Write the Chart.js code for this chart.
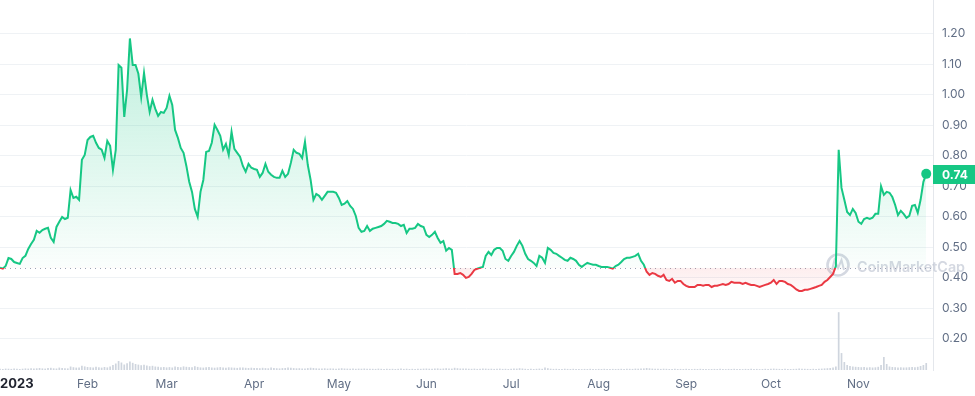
<!DOCTYPE html>
<html>
<head>
<meta charset="utf-8">
<style>
html, body { margin: 0; padding: 0; background: #fff; }
#wrap { width: 975px; height: 396px; }
</style>
<script src="https://cdn.jsdelivr.net/npm/chart.js@4.4.0/dist/chart.umd.min.js"></script>
</head>
<body>
<div id="wrap"><canvas id="priceChart" width="975" height="396"></canvas></div>
<script>
// daily close, 1 Jan 2023 onwards
const prices = [
    0.433,0.430,0.439,0.465,0.462,0.452,0.449,0.446,0.465,0.472,
    0.495,0.511,0.525,0.554,0.548,0.557,0.561,0.564,0.531,0.518,
    0.567,0.584,0.600,0.593,0.597,0.688,0.662,0.666,0.656,0.787,
    0.803,0.852,0.862,0.866,0.843,0.826,0.820,0.793,0.849,0.833,
    0.754,0.820,1.098,1.089,0.928,1.016,1.185,1.098,1.098,1.069,
    0.993,1.072,1.000,0.944,0.984,0.954,0.931,0.944,0.941,0.957,
    0.997,0.967,0.885,0.859,0.826,0.810,0.767,0.715,0.682,0.626,
    0.600,0.682,0.721,0.813,0.816,0.843,0.902,0.885,0.866,0.820,
    0.839,0.803,0.879,0.823,0.810,0.797,0.767,0.748,0.774,0.761,
    0.757,0.754,0.731,0.744,0.774,0.748,0.738,0.731,0.728,0.728,
    0.751,0.731,0.741,0.777,0.820,0.810,0.807,0.793,0.846,0.770,
    0.721,0.656,0.675,0.669,0.656,0.669,0.682,0.682,0.682,0.679,
    0.662,0.639,0.643,0.652,0.636,0.626,0.603,0.564,0.551,0.554,
    0.570,0.554,0.561,0.564,0.567,0.570,0.577,0.587,0.584,0.580,
    0.580,0.577,0.570,0.574,0.547,0.561,0.561,0.564,0.577,0.570,
    0.567,0.541,0.534,0.541,0.551,0.531,0.515,0.521,0.489,0.498,
    0.492,0.413,0.413,0.416,0.410,0.400,0.403,0.413,0.426,0.430,
    0.433,0.436,0.472,0.485,0.475,0.492,0.498,0.498,0.489,0.462,
    0.456,0.472,0.485,0.505,0.521,0.505,0.479,0.462,0.456,0.449,
    0.439,0.472,0.466,0.449,0.498,0.492,0.482,0.479,0.472,0.466,
    0.459,0.456,0.466,0.462,0.456,0.443,0.436,0.443,0.449,0.446,
    0.443,0.443,0.439,0.436,0.436,0.436,0.433,0.430,0.439,0.443,
    0.452,0.462,0.466,0.466,0.469,0.472,0.479,0.456,0.443,0.420,
    0.410,0.416,0.413,0.407,0.403,0.410,0.393,0.390,0.397,0.384,
    0.390,0.390,0.380,0.374,0.370,0.370,0.370,0.377,0.377,0.374,
    0.377,0.377,0.370,0.374,0.374,0.377,0.380,0.377,0.380,0.387,
    0.384,0.384,0.384,0.380,0.384,0.380,0.377,0.377,0.374,0.370,
    0.374,0.377,0.380,0.384,0.393,0.380,0.390,0.390,0.387,0.380,
    0.377,0.370,0.362,0.357,0.357,0.361,0.361,0.364,0.367,0.370,
    0.374,0.377,0.387,0.393,0.403,0.413,0.439,0.820,0.695,0.656,
    0.616,0.606,0.626,0.613,0.584,0.577,0.593,0.597,0.593,0.597,
    0.610,0.610,0.700,0.672,0.682,0.679,0.665,0.639,0.606,0.620,
    0.610,0.597,0.603,0.636,0.639,0.613,0.656,0.715,0.741
];

// daily volume, $M
const volumes = [
    1.2,1.0,1.4,1.3,1.1,1.5,1.2,1.0,1.3,1.6,1.4,1.8,1.5,1.7,2.0,1.6,1.4,1.9,2.2,1.7,1.5,2.4,2.0,1.8,1.6,
    3.5,2.8,2.4,2.6,4.2,3.6,3.0,2.8,2.5,3.2,2.7,2.4,3.0,2.6,3.4,5.0,
    6.5,9.0,7.5,5.5,6.8,8.5,7.2,6.0,5.4,4.8,5.2,4.5,3.8,4.2,3.5,
    3.2,2.8,3.0,2.6,2.9,2.5,3.4,3.0,2.8,3.6,3.2,2.9,2.7,3.8,3.1,2.6,2.4,2.8,3.0,2.5,
    2.3,2.6,2.9,2.4,2.2,2.7,2.5,2.3,2.1,2.4,2.6,2.2,2.0,2.3,2.1,
    2.0,1.8,2.2,1.9,1.7,2.4,2.1,1.8,1.6,1.9,2.0,2.6,2.2,1.9,1.7,1.8,1.6,1.5,1.9,2.3,
    2.0,1.7,1.6,1.5,1.7,1.4,1.6,1.5,1.3,1.6,1.8,1.5,1.4,1.3,1.5,1.2,1.4,1.3,1.5,1.2,
    1.3,1.2,1.1,1.4,1.2,1.0,1.3,1.1,1.2,1.0,
    1.2,1.4,1.1,1.3,1.0,1.2,1.1,1.3,1.2,1.4,
    1.5,1.3,1.2,1.4,1.6,1.3,1.5,1.8,1.5,1.4,
    2.2,1.8,1.5,1.4,1.6,1.3,1.2,1.4,1.1,1.3,
    1.6,1.4,1.2,1.3,1.1,1.2,1.4,1.1,1.2,1.0,
    1.3,1.5,1.4,1.8,1.5,1.2,1.1,1.3,1.0,1.2,
    1.4,1.2,2.4,1.8,1.3,1.1,1.2,1.0,1.1,1.3,
    1.1,1.0,1.2,1.1,1.0,0.9,1.1,1.0,1.2,1.0,
    0.9,1.1,1.0,1.2,1.0,0.9,1.1,1.0,1.1,1.2,
    1.1,1.3,1.2,1.1,1.4,1.3,1.5,1.6,2.0,1.7,
    1.4,1.3,1.2,1.1,1.3,1.2,1.0,1.1,1.2,1.0,
    1.1,1.0,1.2,1.0,0.9,1.1,1.0,1.2,1.1,1.0,
    0.9,1.0,1.1,1.0,1.2,1.0,0.9,1.1,1.0,1.2,
    1.1,1.0,0.9,1.1,1.0,1.2,1.0,1.1,0.9,1.0,
    1.2,1.1,1.3,1.4,1.2,1.1,1.0,1.2,1.1,1.0,
    1.1,1.2,1.4,1.3,1.2,1.1,1.0,1.2,1.1,1.3,
    1.4,1.6,1.8,2.0,2.4,
    3.5,58,17,8,5,4,3.5,3.2,3,2.8,3,2.6,2.8,2.5,2.7,3.2,5,13,6,3.5,3,2.8,2.6,2.7,2.5,2.6,2.8,3,2.7,3.2,4,5,7
];

const monthLabels = ["2023", "Feb", "Mar", "Apr", "May", "Jun", "Jul", "Aug", "Sep", "Oct", "Nov"];
const monthStartDays = [0, 31, 59, 90, 120, 151, 181, 212, 243, 273, 304];
const yTicks = [0.2, 0.3, 0.4, 0.5, 0.6, 0.7, 0.8, 0.9, 1.0, 1.1, 1.2];

const green = "#16c784";
const red = "#ea3943";
const baseline = prices[0];
const lastIdx = prices.length - 1;

const overlay = {
    id: "overlay",
    beforeDatasetsDraw(chart) {
        const { ctx, chartArea, scales } = chart;
        const yb = Math.round(scales.y.getPixelForValue(baseline)) + 0.5;

        // watermark
        ctx.save();
        ctx.strokeStyle = "rgba(170,178,195,0.5)";
        ctx.fillStyle = "rgba(170,178,195,0.5)";
        ctx.lineWidth = 2.6;
        ctx.beginPath();
        ctx.arc(838, 265, 10.5, 0, Math.PI * 2);
        ctx.stroke();
        ctx.lineWidth = 2;
        ctx.beginPath();
        ctx.moveTo(832, 270);
        ctx.lineTo(834.5, 260);
        ctx.lineTo(838, 268);
        ctx.lineTo(841.5, 260);
        ctx.lineTo(844, 270);
        ctx.stroke();
        ctx.font = "600 16px Inter";
        const w = ctx.measureText("CoinMarketCap").width;
        const fs = 16 * 108 / w;
        ctx.font = "600 " + fs.toFixed(1) + "px Inter";
        ctx.textBaseline = "alphabetic";
        ctx.fillText("CoinMarketCap", 857, 272);
        ctx.restore();

        // dotted baseline
        ctx.save();
        ctx.strokeStyle = "#9aa3b4";
        ctx.lineWidth = 1;
        ctx.setLineDash([1, 4]);
        ctx.beginPath();
        ctx.moveTo(chartArea.left, yb);
        ctx.lineTo(chartArea.right, yb);
        ctx.stroke();
        ctx.restore();
    },
    afterDraw(chart) {
        const { ctx, chartArea, scales } = chart;

        // month labels
        ctx.save();
        ctx.textBaseline = "middle";
        monthLabels.forEach((lab, i) => {
            const x = scales.x.getPixelForValue(monthStartDays[i]);
            if (i === 0) {
                ctx.font = "bold 13px Inter";
                ctx.fillStyle = "#222531";
                ctx.textAlign = "left";
                ctx.fillText(lab, 0, chartArea.bottom + 14);
            } else {
                ctx.font = "12px Inter";
                ctx.fillStyle = "#616e85";
                ctx.textAlign = "center";
                ctx.fillText(lab, x, chartArea.bottom + 14);
            }
        });
        ctx.restore();

        // last price tag
        const py = scales.y.getPixelForValue(prices[lastIdx]);
        ctx.save();
        ctx.fillStyle = green;
        ctx.fillRect(chartArea.right, Math.round(py - 9), chart.width - chartArea.right, 19);
        ctx.fillStyle = "#fff";
        ctx.font = "bold 12px Inter";
        ctx.textAlign = "left";
        ctx.textBaseline = "middle";
        ctx.fillText(prices[lastIdx].toFixed(2), chartArea.right + 9, Math.round(py) + 1);
        ctx.restore();
    }
};

const chart = new Chart(document.getElementById("priceChart"), {
    type: "line",
    data: {
        datasets: [{
            type: "line",
            data: prices.map((v, i) => ({ x: i, y: v })),
            borderColor: green,
            borderWidth: 2,
            tension: 0,
            pointRadius: ctx => ctx.dataIndex === lastIdx ? 5 : 0,
            pointBackgroundColor: green,
            pointBorderWidth: 0,
            fill: { target: { value: baseline }, above: "rgba(22,199,132,0.12)", below: "rgba(234,57,67,0.06)" },
            yAxisID: "y",
            order: 1
        }, {
            type: "bar",
            data: volumes.map((v, i) => ({ x: i, y: v })),
            backgroundColor: "#cfd5de",
            barPercentage: 0.6,
            categoryPercentage: 1,
            yAxisID: "vol",
            order: 2
        }]
    },
    options: {
        responsive: false,
        animation: false,
        layout: { autoPadding: false, padding: { left: 0, right: 0, top: 0, bottom: 26 } },
        plugins: { legend: { display: false }, tooltip: { enabled: false } },
        scales: {
            x: { type: "linear", min: 0, max: 330.4, offset: false, display: false },
            y: {
                position: "right",
                min: 0.098,
                max: 1.311,
                afterBuildTicks: s => { s.ticks = yTicks.map(v => ({ value: v })); },
                afterFit: s => { s.width = 42; s.paddingTop = 0; s.paddingBottom = 0; },
                grid: { color: "#eff2f5", drawTicks: false },
                border: { display: true, color: "#e4e7ec" },
                ticks: {
                    padding: 9,
                    color: "#616e85",
                    font: { family: "Inter", size: 12 },
                    callback: v => v.toFixed(2)
                }
            },
            vol: { display: false, min: 0, max: Math.max(...volumes) * 6.4 }
        }
    },
    plugins: [overlay]
});

// colour split and gradients need the laid-out chart area
const area = chart.chartArea;
const c = chart.ctx;
const yBase = chart.scales.y.getPixelForValue(baseline);
const stop = (yBase - area.top) / (area.bottom - area.top);
const lineGrad = c.createLinearGradient(0, area.top, 0, area.bottom);
lineGrad.addColorStop(0, green);
lineGrad.addColorStop(stop, green);
lineGrad.addColorStop(stop, red);
lineGrad.addColorStop(1, red);
const upGrad = c.createLinearGradient(0, chart.scales.y.getPixelForValue(1.2), 0, yBase);
upGrad.addColorStop(0, "rgba(22,199,132,0.28)");
upGrad.addColorStop(1, "rgba(22,199,132,0.02)");
const downGrad = c.createLinearGradient(0, yBase, 0, chart.scales.y.getPixelForValue(0.34));
downGrad.addColorStop(0, "rgba(234,57,67,0.09)");
downGrad.addColorStop(1, "rgba(234,57,67,0.01)");
const ds = chart.data.datasets[0];
ds.borderColor = lineGrad;
ds.fill.above = upGrad;
ds.fill.below = downGrad;
chart.update("none");
</script>
</body>
</html>
